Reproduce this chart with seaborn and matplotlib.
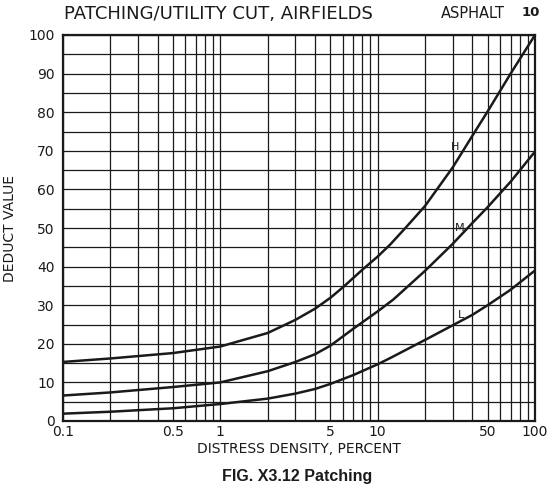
"""
plot.py
-------
Deduct value curves for patching / utility cut on airfield asphalt.
"""

import pandas as pd
import matplotlib
matplotlib.use("Agg")
import matplotlib.pyplot as plt
import matplotlib.ticker as mticker
import seaborn as sns

# ── data ────────────────────────────────────────────────────────────────────
H_DENSITY = [0.1, 0.2, 0.5, 1, 2, 3, 4, 5, 6, 8, 10, 12, 15, 20, 30, 40, 50, 70, 100]
H_DEDUCT  = [15.3, 16.2, 17.6, 19.3, 22.8, 26.2, 29.1, 31.9, 34.6, 39.2, 42.6,
             45.7, 50.0, 55.7, 65.7, 73.9, 80.2, 90.0, 100.0]

M_DENSITY = [0.1, 0.2, 0.5, 1, 2, 3, 4, 5, 7, 10, 12.6, 20, 30, 40, 50, 70, 100]
M_DEDUCT  = [6.6, 7.4, 8.8, 10.0, 12.9, 15.3, 17.3, 19.5, 23.9, 28.4, 31.5,
             38.9, 45.9, 51.3, 55.4, 62.0, 69.8]

L_DENSITY = [0.1, 0.2, 0.5, 1, 2, 3, 4, 5, 7, 10, 12, 20, 30, 40, 50, 70, 100]
L_DEDUCT  = [1.9, 2.4, 3.3, 4.4, 5.8, 7.1, 8.3, 9.6, 11.9, 14.7, 16.3,
             21.0, 24.8, 27.5, 30.0, 34.0, 39.0]

LEVELS = ["H", "M", "L"]
LABEL_POS = {"H": (31, 71), "M": (33, 50), "L": (34, 27.5)}

X_TICKS  = [0.1, 0.5, 1, 5, 10, 50, 100]
X_LABELS = ["0.1", "0.5", "1", "5", "10", "50", "100"]

INK = "#1a1a1a"

sns.set_style("white")
plt.rcParams["font.family"] = ["DejaVu Sans"]

df = pd.concat([
    pd.DataFrame({"density": H_DENSITY, "deduct": H_DEDUCT, "level": "H"}),
    pd.DataFrame({"density": M_DENSITY, "deduct": M_DEDUCT, "level": "M"}),
    pd.DataFrame({"density": L_DENSITY, "deduct": L_DEDUCT, "level": "L"}),
], ignore_index=True)

fig = plt.figure(figsize=(5.59, 4.93), dpi=100)
ax = fig.add_axes([63 / 559, 72 / 493, 472 / 559, 386 / 493])

sns.lineplot(data=df, x="density", y="deduct", hue="level", hue_order=LEVELS,
             palette={k: INK for k in LEVELS}, linewidth=1.8, legend=False, ax=ax)

ax.set_xscale("log")
ax.set_xlim(0.1, 100)
ax.set_ylim(0, 100)

# grid: every unit on the log axis, every 5 on the deduct axis
ax.xaxis.set_major_locator(mticker.FixedLocator(X_TICKS))
ax.xaxis.set_major_formatter(mticker.FixedFormatter(X_LABELS))
ax.xaxis.set_minor_locator(mticker.LogLocator(base=10, subs=range(1, 10)))
ax.xaxis.set_minor_formatter(mticker.NullFormatter())
ax.yaxis.set_major_locator(mticker.MultipleLocator(10))
ax.yaxis.set_minor_locator(mticker.MultipleLocator(5))
ax.grid(which="both", color=INK, linewidth=0.9)
ax.tick_params(which="both", length=0, labelsize=10, colors=INK)
ax.tick_params(axis="x", pad=3)
ax.tick_params(axis="y", pad=6)

for spine in ax.spines.values():
    spine.set_color(INK)
    spine.set_linewidth(1.6)

for level, (x, y) in LABEL_POS.items():
    ax.text(x, y, level, fontsize=8, color=INK, ha="center", va="center")

ax.set_xlabel("DISTRESS DENSITY, PERCENT", fontsize=10, color=INK, labelpad=2)
ax.set_ylabel("DEDUCT VALUE", fontsize=10, color=INK, labelpad=8)

fig.text(64 / 559, 1 - 14 / 493, "PATCHING/UTILITY CUT, AIRFIELDS",
         fontsize=13, color=INK, ha="left", va="center")
fig.text(441 / 559, 1 - 14 / 493, "ASPHALT", fontsize=10.5, color=INK,
         ha="left", va="center")
fig.text(540 / 559, 1 - 13 / 493, "10", fontsize=9.5, fontweight="bold",
         color=INK, ha="right", va="center")
fig.text(297 / 559, 1 - 477 / 493, "FIG. X3.12 Patching", fontsize=11.5,
         fontweight="bold", family=["Liberation Sans", "DejaVu Sans"],
         color=INK, ha="center", va="center")

fig.savefig("out.png", dpi=100)
